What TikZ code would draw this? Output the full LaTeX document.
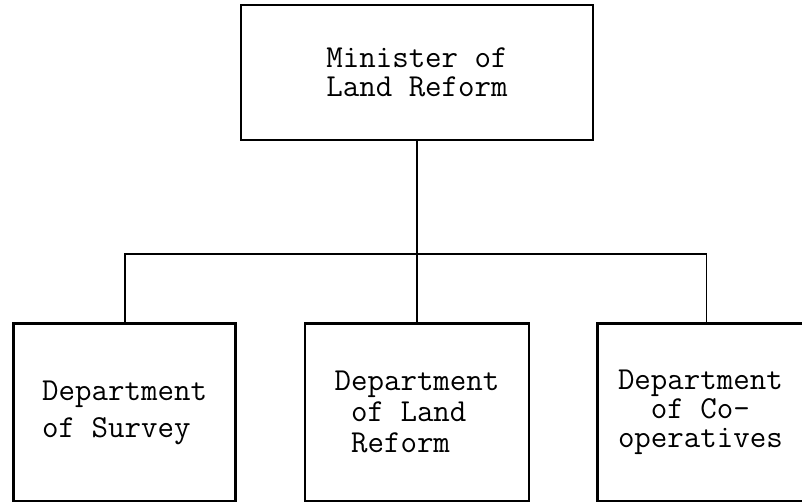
\documentclass[tikz,border=0pt]{standalone}
\usepackage{fontspec}
\usetikzlibrary{positioning}

\begin{document}
\begin{tikzpicture}[
    x=1pt, y=-1pt,
    node distance=66pt,
    unit/.style={draw, rectangle, line width=2.4pt, minimum height=178pt, align=left, inner sep=0pt,
        font=\ttfamily\fontsize{32}{29}\selectfont},
    link/.style={line width=1.8pt}
]
    \useasboundingbox (0,0) rectangle (802,501);

    \node[unit, minimum width=352pt, minimum height=135pt] (minister) at (417,72.5) {Minister of\\Land Reform};

    \node[unit, minimum width=224pt, font=\ttfamily\fontsize{32}{31}\selectfont] (landref) [below=181pt of minister]
        {Department\\\hphantom{D}of Land\\\hphantom{D}Reform};
    \node[unit, minimum width=222pt, font=\ttfamily\fontsize{32}{37}\selectfont] (survey) [left=67pt of landref]
        {Department\\of Survey};
    \node[unit, minimum width=206pt] (coop) [right=of landref]
        {Department\\\hphantom{De}of Co-\\operatives};

    \coordinate (bus) at (417,254);

    \draw[link] (minister.south) -- (landref.north);
    \draw[link] (survey.north) |- (bus) -| ([xshift=6pt]coop.north);

\end{tikzpicture}
\end{document}
